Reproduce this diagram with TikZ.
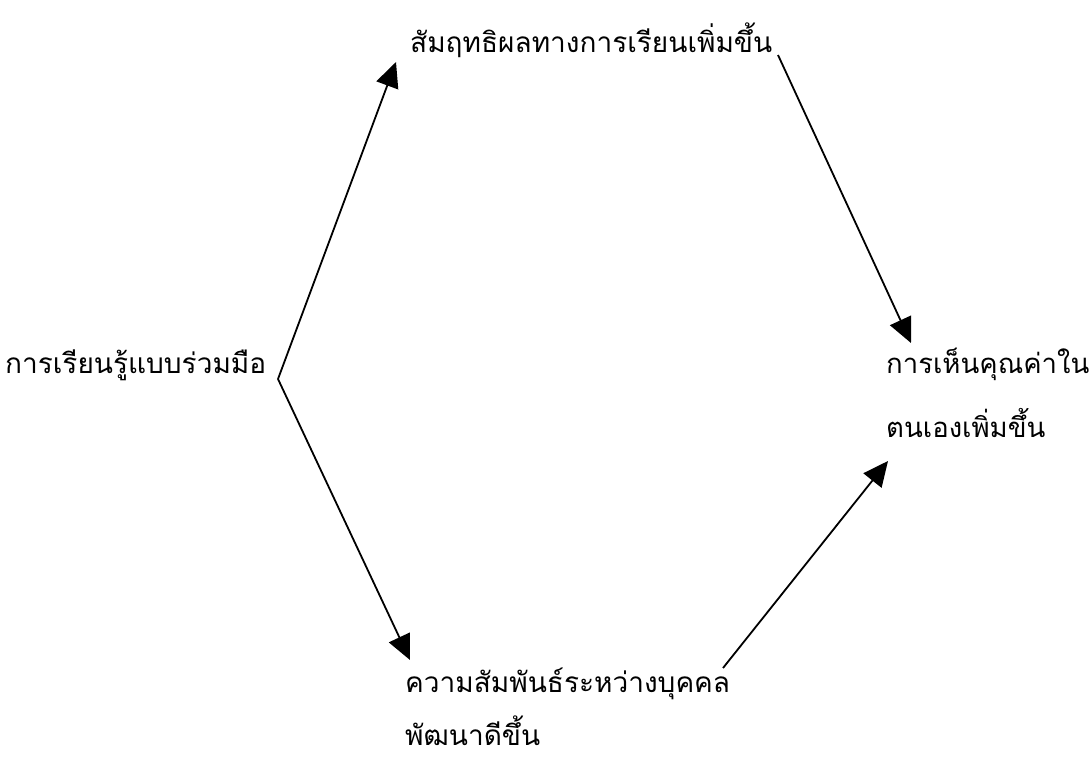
\documentclass[tikz,border=0pt]{standalone}
\usepackage{fontspec}
\newfontfamily\thaifont[Script=Thai]{Loma}
\usetikzlibrary{arrows.meta,positioning}

\begin{document}
\begin{tikzpicture}[x=1pt,y=-1pt,
  every node/.style={font=\thaifont\fontsize{28}{64}\selectfont,inner sep=0pt},
  link/.style={line width=1.8pt,-{Triangle[length=25pt,width=23pt]}}]
\useasboundingbox (0,0) rectangle (1090,760);
\node[anchor=base west] (learn) at (5,373) {การเรียนรู้แบบร่วมมือ};
\node[anchor=base west] (achieve) at (410,53) {สัมฤทธิผลทางการเรียนเพิ่มขึ้น};
\node[anchor=base west,align=left,font=\thaifont\fontsize{27.5}{64}\selectfont] (esteem) at (886,437) {การเห็นคุณค่าใน\\ตนเองเพิ่มขึ้น};
\node[anchor=base west,align=left,font=\thaifont\fontsize{28}{53}\selectfont] (relate) at (405,745) {ความสัมพันธ์ระหว่างบุคคล\\พัฒนาดีขึ้น};
\coordinate (c0) at (278,379);
\coordinate (c1) at (396,62);
\coordinate (c2) at (778,55);
\coordinate (c3) at (911,343);
\coordinate (c4) at (410,660);
\coordinate (c5) at (723,668);
\coordinate (c6) at (888,461);
\draw[link] (c0)--(c1);
\draw[link] (c0)--(c4);
\draw[link] (c2)--(c3);
\draw[link] (c5)--(c6);
\end{tikzpicture}
\end{document}
